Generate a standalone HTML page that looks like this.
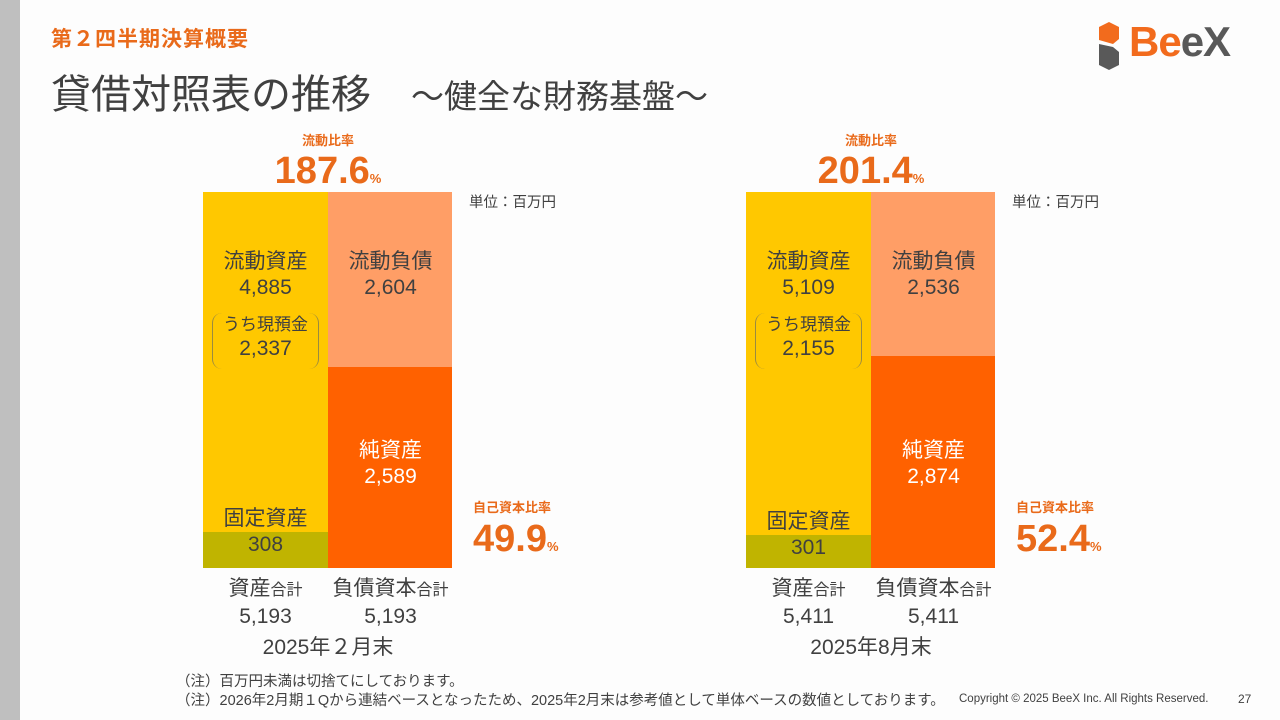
<!DOCTYPE html>
<html><head><meta charset="utf-8">
<style>
*{margin:0;padding:0;box-sizing:border-box}
body{width:1280px;height:720px;position:relative;background:#fdfdfd;font-family:"Liberation Sans","Noto Sans CJK JP",sans-serif;overflow:hidden;color:#404040}
.a{position:absolute;white-space:nowrap}
.seg{position:absolute}
.lbl{position:absolute;text-align:center;font-size:21px;line-height:26px;color:#404040;white-space:nowrap}
.org{color:#e96a1a;font-weight:bold}
</style></head><body>
<div class="a" style="left:0;top:0;width:20px;height:720px;background:#bfbfbf"></div>
<div class="a org" style="left:51px;top:23px;font-size:21px;letter-spacing:1px">第２四半期決算概要</div>
<div class="a" style="left:51px;top:62px;font-size:40px;color:#404040">貸借対照表の推移<span style="font-size:33px;margin-left:40px">～健全な財務基盤～</span></div>
<div class="a" style="left:1097px;top:22px;height:50px">
<svg width="24" height="48" viewBox="0 0 24 48" style="position:absolute;left:0;top:0"><polygon points="12,0 22,5 22,17 16,22 2,18 2,5" fill="#f26b1d"/><polygon points="2,22 16,25 22,30 22,43 12,48 2,43" fill="#595959"/></svg>
<span style="position:absolute;left:32px;top:-4px;font-size:42px;font-weight:bold;letter-spacing:-1px"><span style="color:#f26b1d">Be</span><span style="color:#595959">eX</span></span>
</div>
<div id="charts"></div>
<div class="a" style="left:176px;top:670px;font-size:14.5px">（注）百万円未満は切捨てにしております。</div>
<div class="a" style="left:176px;top:689px;font-size:14.5px">（注）2026年2月期１Qから連結ベースとなったため、2025年2月末は参考値として単体ベースの数値としております。</div>
<div class="a" style="left:959px;top:693px;font-size:11.5px">Copyright © 2025 BeeX Inc. All Rights Reserved.</div>
<div class="a" style="left:1238px;top:692px;font-size:12px">27</div>
<script>
const periods=["2025年２月末","2025年8月末"];
const currentAssets=[4885,5109];
const cashDeposits=[2337,2155];
const fixedAssets=[308,301];
const currentLiabilities=[2604,2536];
const netAssets=[2589,2874];
const totals=[5193,5411];
const currentRatio=["187.6","201.4"];
const equityRatio=["49.9","52.4"];

const fmt=v=>v.toLocaleString('en-US');
const root=document.getElementById('charts');
const TOP=192,H=376,W=125;
function mk(cls,css,html){const d=document.createElement('div');d.className=cls;d.style.cssText=css;if(html!==undefined)d.innerHTML=html;root.appendChild(d);return d;}
periods.forEach((p,i)=>{
  const x0=203+i*543;
  const y=v=>v/totals[i]*H;
  const hFix=y(fixedAssets[i])*1.6;
  const hCL=y(currentLiabilities[i])*0.93;
  let d;
  d=mk('seg',`left:${x0}px;top:${TOP}px;width:${W}px;height:${H-hFix}px;background:#ffc800`);
  
  
  d=mk('seg',`left:${x0}px;top:${TOP+H-hFix}px;width:${W}px;height:${hFix}px;background:#c0b400`);
  
  
  d=mk('seg',`left:${x0+W}px;top:${TOP}px;width:${W-1}px;height:${hCL}px;background:#ff9e66`);
  
  
  d=mk('seg',`left:${x0+W}px;top:${TOP+hCL}px;width:${W-1}px;height:${H-hCL}px;background:#ff6100`);
  
  
  d=mk('lbl',`left:${x0}px;top:249px;width:${W}px`,`流動資産<br>${fmt(currentAssets[i])}`);
  
  
  d=mk('lbl',`left:${x0+9}px;top:313px;width:${W-18}px;height:56px;font-size:17px;line-height:24px;border-left:1.5px solid #9a8a40;border-right:1.5px solid #9a8a40;border-radius:10px`,`うち現預金<br><span style="font-size:21px">${fmt(cashDeposits[i])}</span>`);
  
  
  d=mk('lbl',`left:${x0}px;top:${TOP+H-hFix-26}px;width:${W}px`,`固定資産<br>${fmt(fixedAssets[i])}`);
  
  
  d=mk('lbl',`left:${x0+W}px;top:249px;width:${W}px`,`流動負債<br>${fmt(currentLiabilities[i])}`);
  
  
  d=mk('lbl',`left:${x0+W}px;top:438px;width:${W}px;color:#fff`,`純資産<br>${fmt(netAssets[i])}`);
  
  
  d=mk('lbl',`left:${x0}px;top:576px;width:${W}px`,`資産<span style="font-size:16px">合計</span><br>${fmt(totals[i])}`);
  
  
  d=mk('lbl',`left:${x0+W-10}px;top:576px;width:${W+20}px`,`負債資本<span style="font-size:16px">合計</span><br>${fmt(totals[i])}`);
  
  
  d=mk('lbl',`left:${x0}px;top:635px;width:${2*W}px`,p);
  
  
  d=mk('lbl org',`left:${x0}px;top:132px;width:${2*W}px;font-size:13px;line-height:18px`,`流動比率`);
  
  
  d=mk('lbl org',`left:${x0}px;top:149px;width:${2*W}px;font-size:38px;line-height:44px`,`${currentRatio[i]}<span style="font-size:13px">%</span>`);
  
  
  d=mk('lbl',`left:${x0+266}px;top:194px;width:110px;text-align:left;font-size:14.5px;line-height:18px`,`単位：百万円`);
  
  
  d=mk('lbl org',`left:${x0+270}px;top:499px;width:100px;text-align:left;font-size:13px;line-height:18px`,`自己資本比率`);
  
  
  d=mk('lbl org',`left:${x0+270}px;top:517px;width:120px;text-align:left;font-size:38px;line-height:44px`,`${equityRatio[i]}<span style="font-size:13px">%</span>`);
  
  
});
</script>
</body></html>
